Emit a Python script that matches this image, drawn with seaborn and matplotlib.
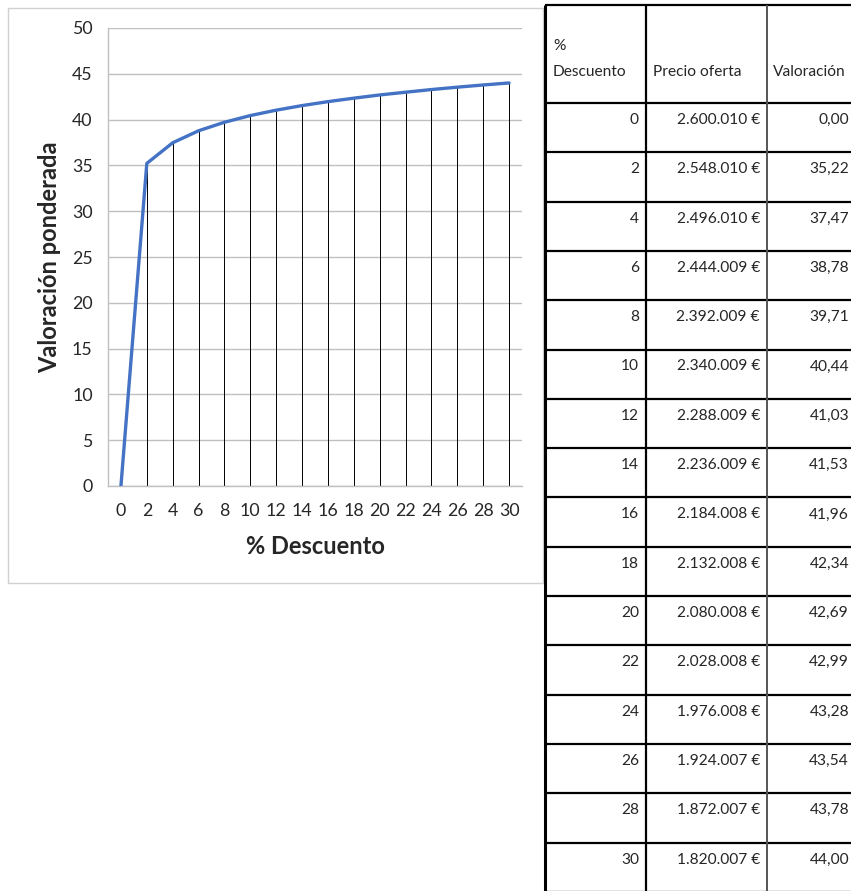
import matplotlib
matplotlib.use("Agg")
import matplotlib.pyplot as plt
import seaborn as sns
import pandas as pd

# data
descuento = [0, 2, 4, 6, 8, 10, 12, 14, 16, 18, 20, 22, 24, 26, 28, 30]
precio = [2600010, 2548010, 2496010, 2444009, 2392009, 2340009, 2288009, 2236009,
          2184008, 2132008, 2080008, 2028008, 1976008, 1924007, 1872007, 1820007]
valoracion = [0.00, 35.22, 37.47, 38.78, 39.71, 40.44, 41.03, 41.53,
              41.96, 42.34, 42.69, 42.99, 43.28, 43.54, 43.78, 44.00]
headers = ['%\nDescuento', 'Precio oferta', 'Valoración']

df = pd.DataFrame({'Descuento': descuento, 'Valoracion': valoracion})

sns.set_style('white')
plt.rcParams['font.family'] = ['Lato', 'DejaVu Sans']

W, H = 851, 891
fig = plt.figure(figsize=(W / 100, H / 100), dpi=100)

# background layer in pixel coordinates (chart frame + table)
bg = fig.add_axes([0, 0, 1, 1])
bg.set_xlim(0, W)
bg.set_ylim(H, 0)
bg.axis('off')

# chart frame
bg.plot([8, 543, 543, 8, 8], [8, 8, 583, 583, 8], color='#d0d0d0', lw=1)

# table
top, head_bot, row_h = 5, 103, 49.3
bg.hlines(top, 545, W, color='black', lw=1.6)
for i in range(len(descuento) + 1):
    bg.hlines(head_bot + i * row_h, 545, W, color='black', lw=1.6)
bg.vlines(545, top, H, color='black', lw=2.2)
bg.vlines(646, top, H, color='black', lw=1.6)
bg.vlines(767, top, H, color='#555555', lw=1.4)

tfs = 11.2
bg.text(553, 59, headers[0], fontsize=tfs, va='center', ha='left', linespacing=2.1)
bg.text(653, 72, headers[1], fontsize=tfs, va='center', ha='left')
bg.text(773, 72, headers[2], fontsize=tfs, va='center', ha='left')

for i, (d, p, v) in enumerate(zip(descuento, precio, valoracion)):
    y = head_bot + i * row_h + 17
    bg.text(639, y, f'{d}', fontsize=tfs, va='center', ha='right')
    bg.text(760, y, f'{p:,}'.replace(',', '.') + ' €', fontsize=tfs, va='center', ha='right')
    bg.text(849, y, f'{v:.2f}'.replace('.', ','), fontsize=tfs, va='center', ha='right')

# line chart
ax = fig.add_axes([108 / W, 1 - 486 / H, 414 / W, 458 / H])
ax.set_facecolor('none')
ax.vlines(df['Descuento'], 0, df['Valoracion'], color='black', lw=0.7, zorder=2)
sns.lineplot(data=df, x='Descuento', y='Valoracion', color='#4472C4', lw=2.4, ax=ax, zorder=3)

ax.set_xlim(-1, 31)
ax.set_ylim(0, 50)
ax.set_xticks(descuento)
ax.set_yticks(range(0, 51, 5))
ax.yaxis.grid(True, color='#c0c0c0', lw=1)
ax.tick_params(axis='y', length=6, color='#c0c0c0', labelsize=12.8, pad=5)
ax.tick_params(axis='x', length=0, labelsize=12.8, pad=12)
for s in ['top', 'right']:
    ax.spines[s].set_visible(False)
for s in ['left', 'bottom']:
    ax.spines[s].set_color('#c0c0c0')
    ax.spines[s].set_linewidth(1)
ax.set_xlabel('% Descuento', fontsize=17, fontweight='bold', labelpad=12)
ax.set_ylabel('Valoración ponderada', fontsize=17, fontweight='bold', labelpad=8)

fig.savefig('out.png', dpi=100)
